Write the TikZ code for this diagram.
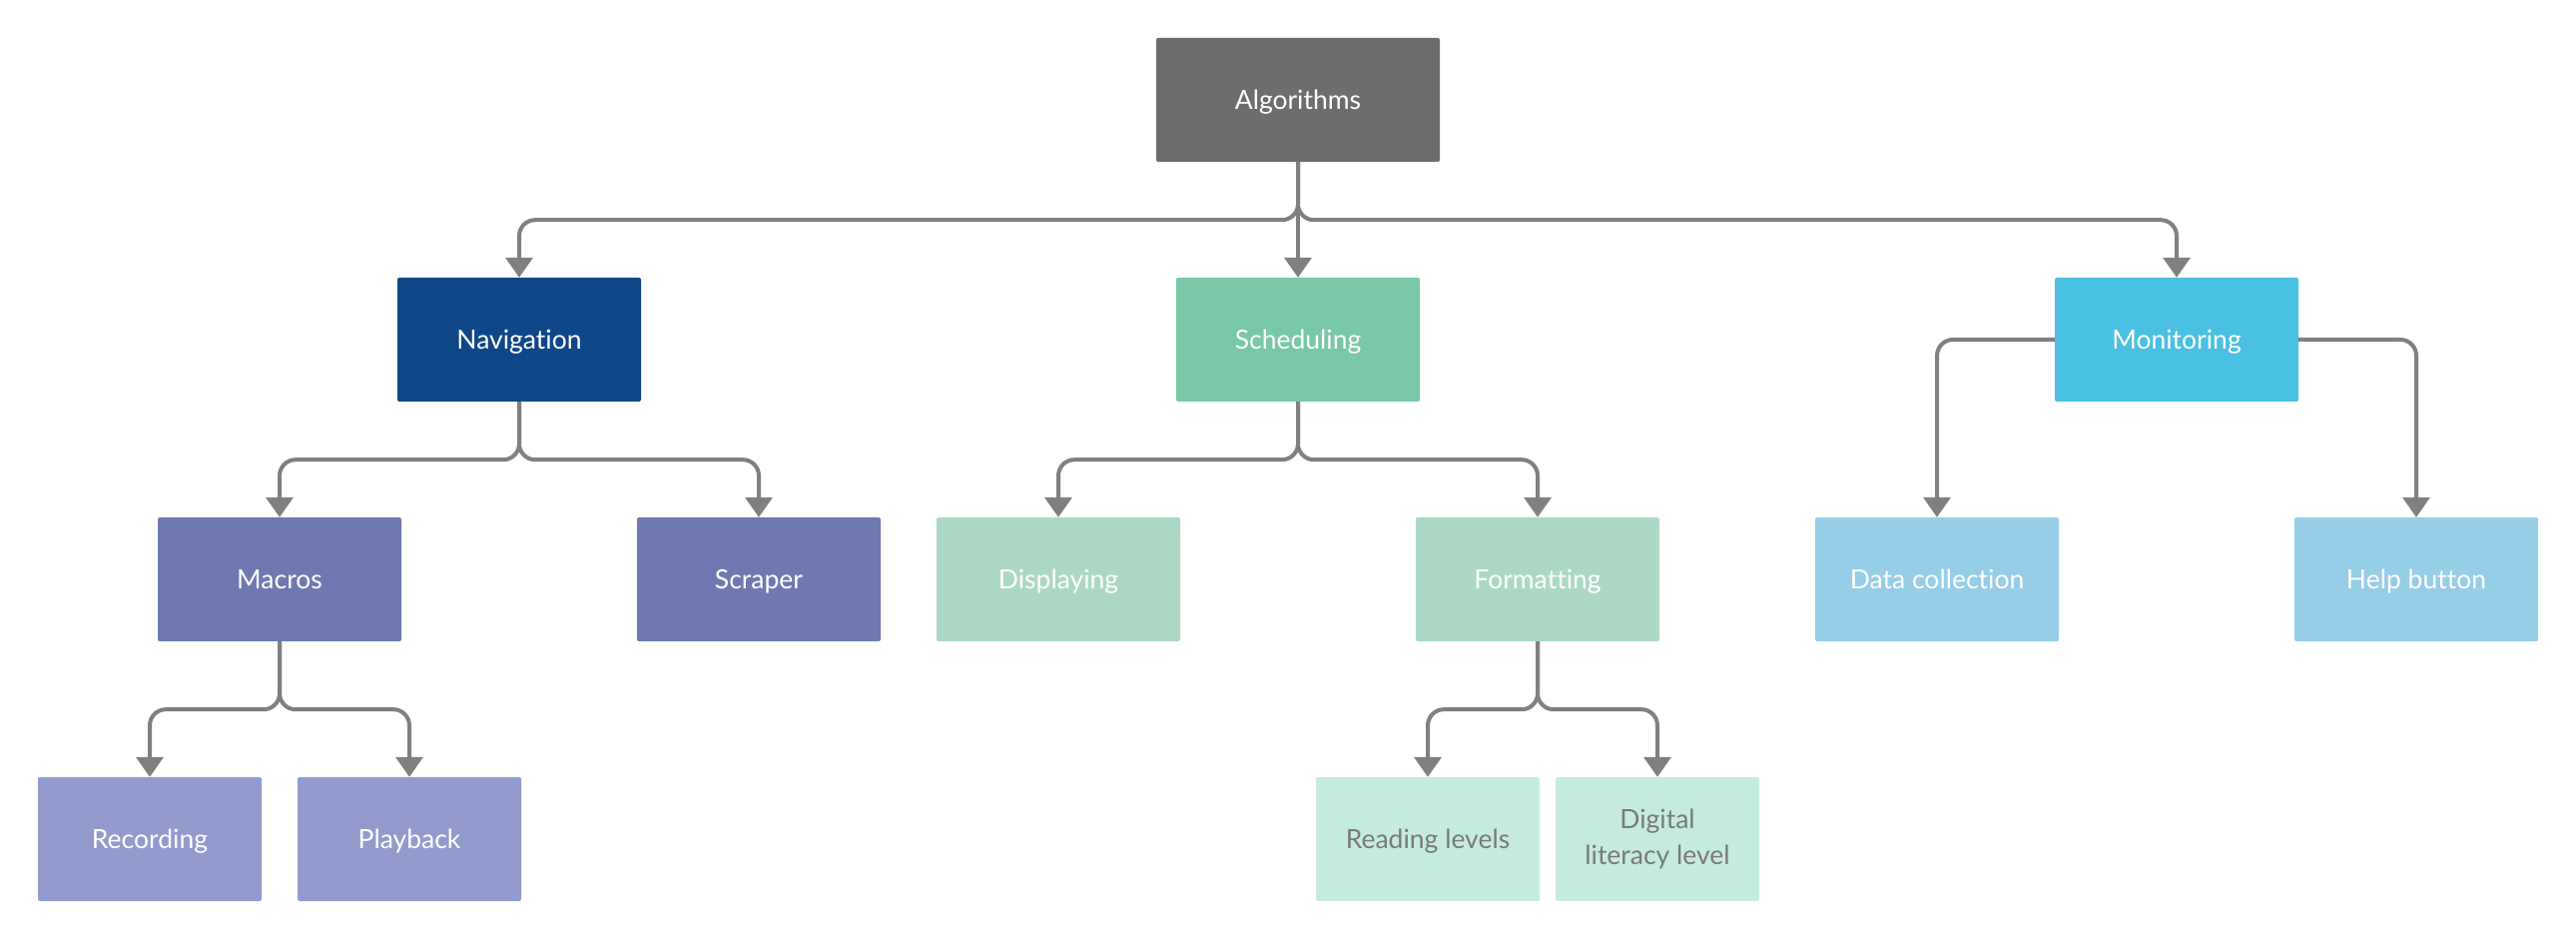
\documentclass[tikz,border=0pt]{standalone}
\usepackage{fontspec}
\setmainfont{Lato}[Ligatures={NoCommon}]
\usetikzlibrary{arrows.meta}
\definecolor{cAlg}{HTML}{6D6D6F}
\definecolor{cNav}{HTML}{0F4788}
\definecolor{cMac}{HTML}{6F78B0}
\definecolor{cRec}{HTML}{939BCD}
\definecolor{cSch}{HTML}{79C8A8}
\definecolor{cDis}{HTML}{ACD9C6}
\definecolor{cRea}{HTML}{C4ECDC}
\definecolor{cReaT}{HTML}{7A7A7A}
\definecolor{cMon}{HTML}{4AC0E2}
\definecolor{cDat}{HTML}{96CDE7}
\definecolor{cLine}{HTML}{808080}
\begin{document}
\begin{tikzpicture}[x=1pt,y=1pt,
  box/.style={rectangle, rounded corners=2pt, minimum height=124pt, minimum width=244pt, inner sep=0pt, align=center, font=\fontsize{26.5}{36}\selectfont, text=white},
  one/.style={text height=19pt, text depth=0pt},
  conn/.style={draw=cLine, line width=4pt, rounded corners=16pt, -{Triangle[width=27pt,length=20pt]}}]
\useasboundingbox (0,0) rectangle (2580,940);
% level 1
\node[box, one, fill=cAlg, minimum width=284pt] (alg) at (1300,840) {Algorithms};
% level 2
\node[box, one, fill=cNav] (nav) at (520,600) {Navigation};
\node[box, one, fill=cSch] (sch) at (1300,600) {Scheduling};
\node[box, one, fill=cMon] (mon) at (2180,600) {Monitoring};
% level 3
\node[box, one, fill=cMac] (mac) at (280,360) {Macros};
\node[box, one, fill=cMac] (scr) at (760,360) {Scraper};
\node[box, one, fill=cDis] (dis) at (1060,360) {Displaying};
\node[box, one, fill=cDis] (fmt) at (1540,360) {Formatting};
\node[box, one, fill=cDat] (dat) at (1940,360) {Data collection};
\node[box, one, fill=cDat] (hlp) at (2420,360) {Help button};
% level 4
\node[box, one, fill=cRec, minimum width=224pt] (rec) at (150,100) {Recording};
\node[box, one, fill=cRec, minimum width=224pt] (pla) at (410,100) {Playback};
\node[box, one, fill=cRea, text=cReaT, minimum width=224pt] (rea) at (1430,100) {Reading levels};
\node[box, fill=cRea, text=cReaT, minimum width=204pt] (dig) at (1660,100) {Digital\\literacy level};
% connectors
\draw[conn] (alg.south) -- ++(0,-58) -| (nav.north);
\draw[conn] (alg.south) -- (sch.north);
\draw[conn] (alg.south) -- ++(0,-58) -| (mon.north);
\draw[conn] (nav.south) -- ++(0,-58) -| (mac.north);
\draw[conn] (nav.south) -- ++(0,-58) -| (scr.north);
\draw[conn] (sch.south) -- ++(0,-58) -| (dis.north);
\draw[conn] (sch.south) -- ++(0,-58) -| (fmt.north);
\draw[conn] (mac.south) -- ++(0,-68) -| (rec.north);
\draw[conn] (mac.south) -- ++(0,-68) -| (pla.north);
\draw[conn] (fmt.south) -- ++(0,-68) -| (rea.north);
\draw[conn] (fmt.south) -- ++(0,-68) -| (dig.north);
\draw[conn] (mon.west) -| (dat.north);
\draw[conn] (mon.east) -| (hlp.north);
\end{tikzpicture}
\end{document}
